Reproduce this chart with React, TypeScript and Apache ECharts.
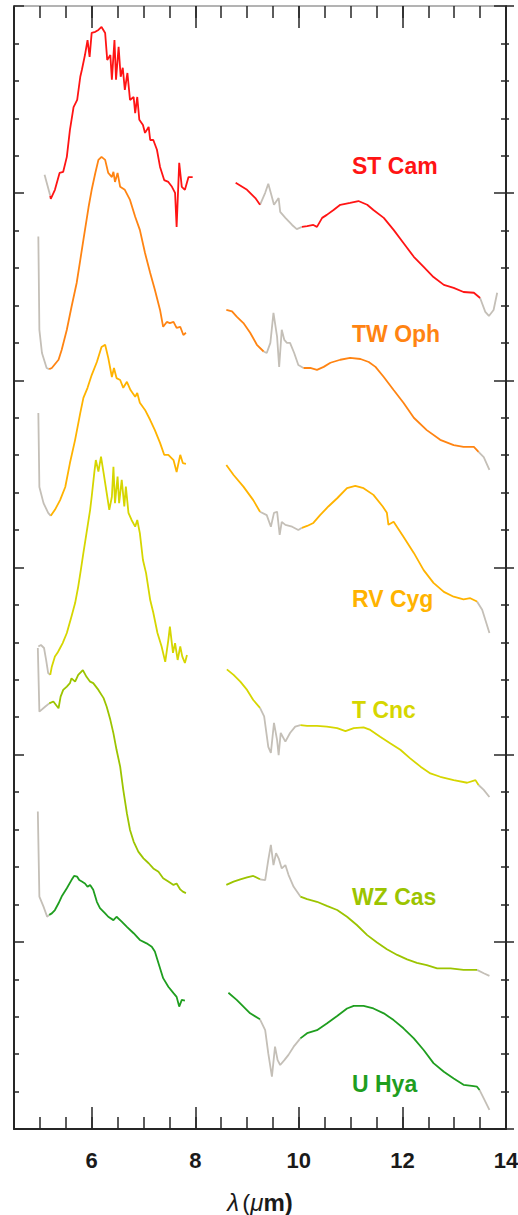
import React, { useEffect, useRef } from "react";
import * as echarts from "echarts";

// wavelength axis tick labels (µm)
const xTickLabels = [6, 8, 10, 12, 14];

const starNames = ["ST Cam", "TW Oph", "RV Cyg", "T Cnc", "WZ Cas", "U Hya"];
const starColors = ["#ff1414", "#ff8412", "#ffb300", "#d6d600", "#9cc400", "#1f9e1f"];
const maskColor = "#c4bfb7";

// [λ (µm), offset flux] — short-wavelength module
const stCamShort = [[5.09,25.49],[5.20,24.93],[5.21,24.85],[5.29,25.09],[5.38,25.54],[5.45,25.57],[5.52,25.97],[5.58,26.69],[5.65,27.30],[5.72,27.49],[5.78,28.11],[5.81,28.29],[5.87,28.69],[5.92,29.09],[5.96,28.64],[6.00,29.28],[6.07,29.31],[6.13,29.36],[6.19,29.44],[6.26,29.28],[6.30,28.56],[6.36,28.69],[6.39,28.03],[6.44,29.09],[6.47,28.03],[6.52,28.91],[6.56,28.11],[6.60,28.35],[6.64,27.76],[6.69,28.21],[6.74,27.49],[6.81,27.57],[6.84,27.14],[6.88,27.57],[6.92,26.96],[6.99,26.82],[7.03,26.61],[7.10,26.77],[7.13,26.42],[7.19,26.42],[7.26,26.16],[7.32,25.70],[7.40,25.35],[7.48,25.30],[7.55,25.17],[7.61,25.01],[7.64,24.10],[7.69,25.81],[7.74,25.17],[7.80,25.09],[7.87,25.43],[7.95,25.43]];
const stCamLong = [[8.78,25.28],[9.00,25.09],[9.16,24.87],[9.25,24.69],[9.35,25.01],[9.41,25.25],[9.48,24.90],[9.52,24.69],[9.61,24.87],[9.64,24.50],[9.74,24.34],[9.87,24.15],[9.96,24.04],[10.06,24.10],[10.16,24.12],[10.28,24.15],[10.35,24.10],[10.45,24.34],[10.54,24.42],[10.67,24.55],[10.80,24.69],[10.99,24.74],[11.15,24.79],[11.32,24.69],[11.44,24.55],[11.64,24.34],[11.83,24.02],[12.02,23.67],[12.22,23.30],[12.41,23.03],[12.60,22.76],[12.80,22.55],[12.99,22.47],[13.18,22.36],[13.38,22.34],[13.50,22.20],[13.60,21.83],[13.67,21.72],[13.76,21.88],[13.83,22.34]];

const twOphShort = [[4.97,23.84],[4.99,21.35],[5.04,20.73],[5.13,20.33],[5.18,20.30],[5.23,20.33],[5.36,20.55],[5.42,20.81],[5.52,21.35],[5.61,21.96],[5.71,22.60],[5.78,23.22],[5.84,23.75],[5.94,24.63],[6.00,25.09],[6.07,25.54],[6.13,25.89],[6.19,25.97],[6.26,25.89],[6.32,25.54],[6.39,25.43],[6.42,25.57],[6.45,25.30],[6.50,25.54],[6.55,25.17],[6.64,25.09],[6.74,24.82],[6.84,24.37],[6.93,24.02],[7.03,23.40],[7.13,22.87],[7.22,22.42],[7.32,21.88],[7.38,21.43],[7.45,21.56],[7.51,21.53],[7.58,21.56],[7.64,21.40],[7.71,21.43],[7.77,21.21],[7.82,21.27]];
const twOphLong = [[8.60,21.88],[8.71,21.84],[8.80,21.70],[8.93,21.53],[9.06,21.27],[9.19,20.95],[9.32,20.77],[9.38,20.73],[9.45,21.00],[9.51,21.80],[9.58,21.16],[9.62,20.36],[9.67,21.35],[9.72,21.08],[9.77,21.00],[9.83,21.00],[9.91,20.73],[9.99,20.41],[10.09,20.33],[10.22,20.33],[10.35,20.28],[10.48,20.36],[10.61,20.47],[10.80,20.55],[10.99,20.60],[11.19,20.57],[11.35,20.49],[11.48,20.36],[11.64,20.09],[11.83,19.74],[12.02,19.40],[12.22,19.00],[12.47,18.67],[12.73,18.41],[12.99,18.27],[13.18,18.22],[13.38,18.22],[13.47,18.09],[13.57,17.95],[13.68,17.61]];

const rvCygShort = [[4.97,19.13],[4.99,17.15],[5.07,16.72],[5.16,16.46],[5.21,16.38],[5.29,16.54],[5.39,16.80],[5.49,17.15],[5.58,17.79],[5.68,18.41],[5.78,19.13],[5.84,19.53],[5.92,19.80],[6.00,20.14],[6.10,20.49],[6.19,20.89],[6.26,20.95],[6.32,20.60],[6.39,20.09],[6.43,20.33],[6.48,20.06],[6.55,20.01],[6.61,19.80],[6.68,19.96],[6.75,19.74],[6.84,19.56],[6.88,19.66],[6.93,19.40],[7.03,19.21],[7.13,18.94],[7.22,18.67],[7.32,18.33],[7.40,18.01],[7.48,18.01],[7.58,17.87],[7.64,17.55],[7.71,18.01],[7.76,17.79],[7.82,17.77]];
const rvCygLong = [[8.60,17.74],[8.74,17.47],[8.93,17.16],[9.12,16.80],[9.25,16.49],[9.38,16.40],[9.46,16.09],[9.52,16.46],[9.58,16.49],[9.63,15.87],[9.67,16.22],[9.74,16.14],[9.87,16.09],[9.99,16.00],[10.06,16.06],[10.16,16.11],[10.28,16.19],[10.41,16.40],[10.57,16.63],[10.74,16.85],[10.93,17.12],[11.09,17.18],[11.25,17.12],[11.44,16.94],[11.62,16.63],[11.70,16.46],[11.73,16.14],[11.83,16.22],[12.02,15.82],[12.22,15.39],[12.41,14.93],[12.60,14.59],[12.80,14.35],[12.99,14.22],[13.18,14.15],[13.31,14.18],[13.44,14.09],[13.54,13.87],[13.62,13.52],[13.68,13.25]];

const tCncShort = [[4.97,12.89],[5.02,12.93],[5.08,12.85],[5.12,12.53],[5.16,12.18],[5.20,12.13],[5.23,12.35],[5.29,12.62],[5.34,12.72],[5.39,12.85],[5.44,12.98],[5.52,13.25],[5.61,13.69],[5.68,14.05],[5.74,14.49],[5.79,14.93],[5.84,15.39],[5.90,15.92],[5.97,16.54],[6.00,16.89],[6.05,17.53],[6.08,17.87],[6.13,17.56],[6.18,17.96],[6.23,17.53],[6.29,16.99],[6.34,16.54],[6.39,16.89],[6.42,17.69],[6.45,16.72],[6.50,17.43],[6.53,16.72],[6.58,17.34],[6.63,16.63],[6.66,17.16],[6.71,16.46],[6.77,16.27],[6.84,16.09],[6.88,16.27],[6.93,15.92],[6.99,15.20],[7.05,14.85],[7.13,14.13],[7.19,13.79],[7.27,13.25],[7.35,12.89],[7.42,12.48],[7.48,13.06],[7.51,13.42],[7.57,12.72],[7.61,12.98],[7.66,12.53],[7.71,12.89],[7.75,12.62],[7.80,12.45],[7.84,12.66]];
const tCncLong = [[8.61,12.28],[8.74,12.13],[8.87,11.95],[9.00,11.73],[9.12,11.46],[9.25,11.25],[9.33,11.02],[9.41,10.21],[9.46,10.05],[9.52,10.85],[9.58,10.39],[9.61,9.99],[9.65,10.58],[9.74,10.35],[9.83,10.58],[9.93,10.75],[10.03,10.79],[10.16,10.77],[10.35,10.77],[10.54,10.75],[10.74,10.71],[10.90,10.63],[11.06,10.71],[11.25,10.73],[11.38,10.66],[11.57,10.48],[11.77,10.30],[11.96,10.13],[12.15,9.90],[12.35,9.68],[12.54,9.50],[12.73,9.41],[12.99,9.32],[13.25,9.25],[13.41,9.32],[13.47,9.19],[13.57,9.06],[13.68,8.87]];

const wzCasShort = [[4.96,12.85],[4.99,11.15],[5.10,11.28],[5.18,11.37],[5.26,11.42],[5.36,11.24],[5.40,11.55],[5.45,11.73],[5.52,11.82],[5.58,11.91],[5.61,12.04],[5.68,11.95],[5.74,12.13],[5.83,12.26],[5.90,12.08],[5.97,11.95],[6.03,11.91],[6.13,11.73],[6.23,11.51],[6.29,11.28],[6.36,10.93],[6.42,10.57],[6.48,10.13],[6.55,9.68],[6.61,9.06],[6.68,8.43],[6.74,7.99],[6.81,7.68],[6.90,7.41],[7.00,7.23],[7.10,7.10],[7.19,6.96],[7.29,6.87],[7.38,6.70],[7.48,6.61],[7.58,6.52],[7.64,6.56],[7.71,6.40],[7.76,6.34],[7.82,6.30]];
const wzCasLong = [[8.60,6.52],[8.74,6.61],[8.87,6.67],[9.00,6.72],[9.12,6.76],[9.25,6.67],[9.35,6.65],[9.41,7.19],[9.46,7.59],[9.51,7.05],[9.56,7.37],[9.61,7.23],[9.67,6.96],[9.74,7.05],[9.80,6.79],[9.90,6.47],[10.03,6.21],[10.16,6.14],[10.35,6.07],[10.54,5.96],[10.74,5.85],[10.93,5.67],[11.12,5.45],[11.32,5.18],[11.51,4.98],[11.70,4.80],[11.90,4.65],[12.09,4.53],[12.28,4.44],[12.47,4.38],[12.67,4.29],[12.93,4.29],[13.18,4.25],[13.44,4.25],[13.57,4.16],[13.68,4.09]];

const uHyaShort = [[4.96,8.48],[4.99,6.21],[5.07,5.94],[5.14,5.67],[5.18,5.72],[5.23,5.76],[5.29,5.85],[5.36,6.03],[5.42,6.21],[5.52,6.43],[5.61,6.65],[5.66,6.76],[5.72,6.74],[5.76,6.65],[5.81,6.61],[5.87,6.56],[5.92,6.47],[5.97,6.52],[6.03,6.39],[6.10,6.07],[6.16,5.90],[6.26,5.76],[6.32,5.67],[6.42,5.58],[6.48,5.67],[6.58,5.54],[6.68,5.40],[6.81,5.23],[6.93,5.05],[7.06,4.96],[7.16,4.87],[7.22,4.74],[7.29,4.43],[7.38,4.03],[7.48,3.80],[7.58,3.63],[7.64,3.53],[7.69,3.27],[7.74,3.45],[7.80,3.43]];
const uHyaLong = [[8.64,3.64],[8.80,3.45],[8.93,3.27],[9.06,3.09],[9.25,2.93],[9.35,2.64],[9.41,2.02],[9.48,1.40],[9.54,2.20],[9.59,1.84],[9.64,1.71],[9.72,1.84],[9.80,1.98],[9.90,2.20],[10.03,2.42],[10.16,2.56],[10.35,2.64],[10.54,2.82],[10.74,3.02],[10.93,3.22],[11.06,3.29],[11.25,3.29],[11.44,3.22],[11.64,3.09],[11.83,2.91],[12.02,2.69],[12.22,2.42],[12.41,2.11],[12.60,1.76],[12.80,1.53],[12.99,1.35],[13.18,1.18],[13.34,1.15],[13.44,1.13],[13.49,1.04],[13.57,0.82],[13.68,0.51]];

// masked (grey) wavelength windows per star: [end of leading mask, start of mid mask, end of mid mask, start of trailing mask]
const stCamMask = [5.20, 9.25, 10.06, 13.50];
const twOphMask = [5.18, 9.32, 10.09, 13.47];
const rvCygMask = [5.21, 9.25, 10.06, 13.44];
const tCncMask = [5.20, 9.25, 10.03, 13.47];
const wzCasMask = [5.18, 9.25, 10.03, 13.44];
const uHyaMask = [5.18, 9.25, 10.03, 13.49];

const starSpectra = [
  [stCamShort, stCamLong],
  [twOphShort, twOphLong],
  [rvCygShort, rvCygLong],
  [tCncShort, tCncLong],
  [wzCasShort, wzCasLong],
  [uHyaShort, uHyaLong],
];
const starMasks = [stCamMask, twOphMask, rvCygMask, tCncMask, wzCasMask, uHyaMask];

type Pt = number[];
function splitSegments(pts: Pt[], m: number[]) {
  const masked = (x: number) => x <= m[0] || (x >= m[1] && x <= m[2]) || x >= m[3];
  const segs: { gray: boolean; data: Pt[] }[] = [];
  let cur: { gray: boolean; data: Pt[] } | null = null;
  for (let i = 0; i < pts.length - 1; i++) {
    const a = pts[i];
    const b = pts[i + 1];
    const gray = masked(a[0]) && masked(b[0]);
    if (!cur || cur.gray !== gray) {
      cur = { gray, data: [a] };
      segs.push(cur);
    }
    cur.data.push(b);
  }
  return segs;
}

const FONT = '"Liberation Sans", Arial, Helvetica, sans-serif';
const AX = "#262626";

export default function App() {
  const ref = useRef<HTMLDivElement>(null);
  useEffect(() => {
    if (!ref.current) return;
    const chart = echarts.init(ref.current, undefined, { renderer: "svg" });

    const series: any[] = [];
    starSpectra.forEach((parts, si) => {
      parts.forEach((pts) => {
        splitSegments(pts, starMasks[si]).forEach((seg) => {
          series.push({
            type: "line",
            xAxisIndex: 0,
            yAxisIndex: 0,
            data: seg.data,
            showSymbol: false,
            symbol: "none",
            silent: true,
            z: seg.gray ? 2 : 3,
            lineStyle: { color: seg.gray ? maskColor : starColors[si], width: 1.8 },
          });
        });
      });
    });

    const labelY = [166, 334, 599, 710, 897, 1084];
    const graphic = starNames.map((name, i) => ({
      type: "text",
      x: 352,
      y: labelY[i],
      style: {
        text: name,
        fill: starColors[i],
        font: `bold 23px ${FONT}`,
        verticalAlign: "middle",
        align: "left",
      },
    }));

    const noSplit = { show: false };
    const tick = () => ({ color: AX, width: 1.5 });
    const baseX = { type: "value", min: 4.5, max: 14, splitLine: noSplit };
    const baseY = {
      type: "value",
      min: 0,
      max: 30,
      interval: 5,
      splitLine: noSplit,
      axisLabel: { show: false },
    };

    chart.setOption({
      animation: false,
      grid: { left: 14, right: 12, top: 6, bottom: 86, containLabel: false, outerBoundsMode: "none" },
      xAxis: [
        {
          ...baseX,
          interval: 0.5,
          position: "bottom",
          axisLine: { show: true, onZero: false, lineStyle: { color: AX, width: 2 } },
          axisTick: { show: true, inside: true, length: 12, lineStyle: tick() },
          axisLabel: { show: false },
          name: "{i|λ} {n|(}{i|μ}{b|m)}",
          nameLocation: "middle",
          nameGap: 61,
          nameTextStyle: {
            rich: {
              i: { fontSize: 24, fontStyle: "italic", color: "#1a1a1a", fontFamily: FONT },
              n: { fontSize: 24, color: "#1a1a1a", fontFamily: FONT },
              b: { fontSize: 24, fontWeight: "bold", color: "#1a1a1a", fontFamily: FONT },
            },
          },
        },
        {
          ...baseX,
          interval: 0.5,
          position: "top",
          axisLine: { show: true, onZero: false, lineStyle: { color: "#9a9a9a", width: 1.5 } },
          axisTick: { show: true, inside: true, length: 12, lineStyle: tick() },
          axisLabel: { show: false },
        },
        {
          ...baseX,
          position: "bottom",
          axisLine: { show: false, onZero: false },
          axisTick: { show: true, inside: true, length: 22, customValues: xTickLabels, lineStyle: tick() },
          axisLabel: {
            show: true,
            customValues: xTickLabels,
            margin: 20,
            fontSize: 22,
            fontWeight: "bold",
            color: "#1a1a1a",
            fontFamily: FONT,
          },
        },
        {
          ...baseX,
          position: "top",
          axisLine: { show: false, onZero: false },
          axisTick: { show: true, inside: true, length: 22, customValues: xTickLabels, lineStyle: tick() },
          axisLabel: { show: false },
        },
      ],
      yAxis: [
        {
          ...baseY,
          position: "left",
          axisLine: { show: true, onZero: false, lineStyle: { color: AX, width: 2 } },
          axisTick: { show: true, inside: true, length: 10, lineStyle: tick() },
          minorTick: { show: true, splitNumber: 5, length: 5, lineStyle: tick() },
        },
        {
          ...baseY,
          position: "right",
          axisLine: { show: true, onZero: false, lineStyle: { color: AX, width: 2 } },
          axisTick: { show: true, inside: true, length: 12, lineStyle: tick() },
          minorTick: { show: true, splitNumber: 5, length: 5, lineStyle: tick() },
        },
        {
          ...baseY,
          position: "right",
          axisLine: { show: false, onZero: false },
          axisTick: { show: true, inside: false, length: 8, lineStyle: tick() },
          minorTick: { show: true, splitNumber: 5, length: 3, lineStyle: tick() },
        },
      ],
      series,
      graphic,
    });

    return () => chart.dispose();
  }, []);

  return (
    <div
      ref={ref}
      style={{ position: "absolute", left: 0, top: 0, width: 518, height: 1215, background: "#fff" }}
    />
  );
}
